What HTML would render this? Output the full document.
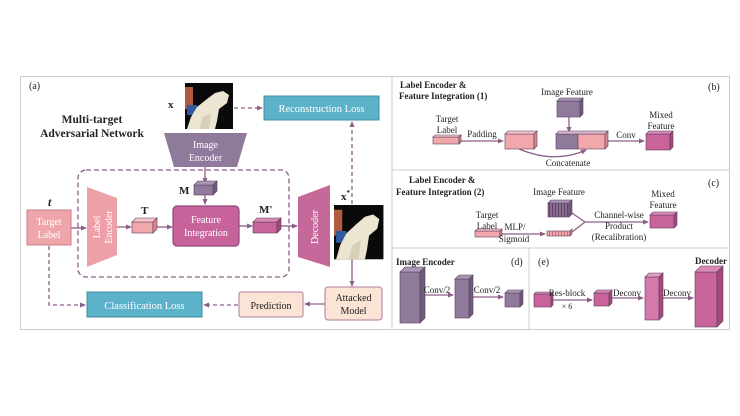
<!DOCTYPE html>
<html><head><meta charset="utf-8"><style>
html,body{margin:0;padding:0;background:#fff;}
svg{display:block;font-family:"Liberation Serif",serif;}
</style></head><body>
<svg width="740" height="416" viewBox="0 0 740 416" xmlns="http://www.w3.org/2000/svg">
<defs>
<marker id="ar" markerWidth="6" markerHeight="6" refX="5" refY="3" orient="auto" markerUnits="userSpaceOnUse"><path d="M0,0.5 L6,3 L0,5.5 z" fill="#8d5f88"/></marker>
<pattern id="st" width="3" height="10" patternUnits="userSpaceOnUse"><rect width="3" height="10" fill="#8a6a8e"/><rect width="1" height="10" fill="#5e4468"/></pattern>
<pattern id="st2" width="3" height="10" patternUnits="userSpaceOnUse"><rect width="3" height="10" fill="#f2a7ad"/><rect width="1" height="10" fill="#c7708a"/></pattern>
<g id="photo"><rect width="48" height="46" fill="#0a0a0a"/><rect x="0" y="4" width="8" height="22" fill="#b05a40"/><rect x="2" y="22" width="10" height="10" fill="#2f5aa0"/><path d="M2,46 L6,34 L12,24 L22,16 L30,10 L38,8 L44,12 L42,20 L34,26 L32,38 L30,46 z" fill="#ece5d2"/><path d="M14,46 L18,34 L26,30 L24,46 z" fill="#d8cfb8"/></g>
</defs>
<rect x="20.5" y="76.5" width="709" height="253" fill="none" stroke="#ccc"/>
<line x1="392" y1="77" x2="392" y2="329" stroke="#ccc"/>
<line x1="392" y1="170" x2="729" y2="170" stroke="#ccc"/>
<line x1="392" y1="248" x2="729" y2="248" stroke="#ccc"/>
<line x1="529" y1="248" x2="529" y2="329" stroke="#ccc"/>

<g stroke="#8d5f88" stroke-width="1.3" fill="none">
<path d="M234,108 H262" stroke-dasharray="4,3" marker-end="url(#ar)"/>
<path d="M352,204 V122" stroke-dasharray="4,3" marker-end="url(#ar)"/>
<path d="M49,246 V305 H85" stroke-dasharray="4,3" marker-end="url(#ar)"/>
<path d="M238,305 H204" stroke-dasharray="4,3" marker-end="url(#ar)"/>
<rect x="78" y="170" width="211" height="107" rx="8" stroke-dasharray="5,3"/>
<path d="M205,167 V183" marker-end="url(#ar)"/>
<path d="M205,195 V204" marker-end="url(#ar)"/>
<path d="M71,228 H86" marker-end="url(#ar)"/>
<path d="M117,227 H131" marker-end="url(#ar)"/>
<path d="M157,227 H172" marker-end="url(#ar)"/>
<path d="M239,226 H252" marker-end="url(#ar)"/>
<path d="M281,226 H297" marker-end="url(#ar)"/>
<path d="M352,259 V286" marker-end="url(#ar)"/>
<path d="M325,304 H305" marker-end="url(#ar)"/>
<path d="M461,141 H503" marker-end="url(#ar)"/>
<path d="M569,117 V132" marker-end="url(#ar)"/>
<path d="M519,149 Q555,164 586,150" marker-end="url(#ar)"/>
<path d="M608,141 H644" marker-end="url(#ar)"/>
<path d="M501,234 H545" marker-end="url(#ar)"/>
<path d="M569,211 L585,222 L572,232"/>
<path d="M585,222 H648" marker-end="url(#ar)"/>
<path d="M420,295 H453" marker-end="url(#ar)"/>
<path d="M469,297 H503" marker-end="url(#ar)"/>
<path d="M551,300 H592" marker-end="url(#ar)"/>
<path d="M609,298 H643" marker-end="url(#ar)"/>
<path d="M659,298 H693" marker-end="url(#ar)"/>
</g>

<rect x="264" y="96" width="115" height="24" fill="#5cb3c9" stroke="#3f8da3"/>
<text x="321.5" y="112" font-size="10.5" fill="#fff" text-anchor="middle">Reconstruction Loss</text>
<rect x="87" y="292" width="115" height="25" fill="#5cb3c9" stroke="#3f8da3"/>
<text x="144.5" y="309" font-size="10.5" fill="#fff" text-anchor="middle">Classification Loss</text>
<rect x="239" y="292" width="64" height="25" rx="2" fill="#fbe3d5" stroke="#b07aa0"/>
<text x="271" y="309" font-size="10" fill="#222" text-anchor="middle">Prediction</text>
<rect x="325" y="287" width="57" height="33" rx="3" fill="#fbe3d5" stroke="#b07aa0"/>
<text x="353.5" y="301" font-size="10" fill="#222" text-anchor="middle">Attacked</text>
<text x="353.5" y="314" font-size="10" fill="#222" text-anchor="middle">Model</text>
<rect x="27" y="210" width="44" height="35" fill="#efa6ab" stroke="#c77f8b"/>
<text x="49" y="225" font-size="10" fill="#fff" text-anchor="middle">Target</text>
<text x="49" y="238" font-size="10" fill="#fff" text-anchor="middle">Label</text>
<rect x="173" y="206" width="66" height="40" rx="4" fill="#c8629a" stroke="#8d4a7a" stroke-width="1.2"/>
<text x="206" y="223" font-size="10" fill="#fff" text-anchor="middle">Feature</text>
<text x="206" y="236" font-size="10" fill="#fff" text-anchor="middle">Integration</text>
<polygon points="164,133 247,133 237,167 174,167" fill="#8f7a9c"/>
<text x="205.5" y="148" font-size="10" fill="#fff" text-anchor="middle">Image</text>
<text x="205.5" y="161" font-size="10" fill="#fff" text-anchor="middle">Encoder</text>
<polygon points="87,187 117,198 117,255 87,267" fill="#eea0a8"/>
<text transform="translate(100,227) rotate(-90)" font-size="10" fill="#fff" text-anchor="middle">Label</text>
<text transform="translate(112,227) rotate(-90)" font-size="10" fill="#fff" text-anchor="middle">Encoder</text>
<polygon points="298,197 330,185 330,267 298,257" fill="#c5699a"/>
<text transform="translate(318,227) rotate(-90)" font-size="10" fill="#fff" text-anchor="middle">Decoder</text>
<use href="#photo" transform="translate(185,83)"/>
<use href="#photo" transform="translate(334,205) scale(1.03,1.18)"/>

<g stroke="#5a3f5e" stroke-width="0.6">
<rect x="194" y="185" width="19" height="10" fill="#8f7a9c"/><polygon points="194,185 198,181 217,181 213,185" fill="#a896b2"/><polygon points="213,185 217,181 217,191 213,195" fill="#6e5a7a"/>
<rect x="132" y="222" width="21" height="11" fill="#f2a7ad"/><polygon points="132,222 136,218 157,218 153,222" fill="#f7c4c7"/><polygon points="153,222 157,218 157,229 153,233" fill="#d9868f"/>
<rect x="253" y="222" width="24" height="11" fill="#c8649a"/><polygon points="253,222 257,218 281,218 277,222" fill="#db8ab5"/><polygon points="277,222 281,218 281,229 277,233" fill="#a34a7b"/>
<rect x="433" y="137" width="26" height="7" fill="#f2a7ad"/><polygon points="433,137 435,135 461,135 459,137" fill="#f7c4c7"/><polygon points="459,137 461,135 461,142 459,144" fill="#d9868f"/>
<rect x="505" y="134" width="29" height="15" fill="#f2a7ad"/><polygon points="505,134 508,131 537,131 534,134" fill="#f7c4c7"/><polygon points="534,134 537,131 537,146 534,149" fill="#d9868f"/>
<rect x="557" y="101" width="23" height="16" fill="#8f7a9c"/><polygon points="557,101 560,98 583,98 580,101" fill="#a896b2"/><polygon points="580,101 583,98 583,114 580,117" fill="#6e5a7a"/>
<rect x="556" y="134" width="22" height="15" fill="#8f7a9c"/><rect x="578" y="134" width="27" height="15" fill="#f2a7ad"/><polygon points="556,134 559,131 608,131 605,134" fill="#d8b8c8"/><polygon points="605,134 608,131 608,146 605,149" fill="#d9868f"/>
<rect x="646" y="134" width="24" height="16" fill="#c8649a"/><polygon points="646,134 649,131 673,131 670,134" fill="#db8ab5"/><polygon points="670,134 673,131 673,147 670,150" fill="#a34a7b"/>
<rect x="548" y="203" width="21" height="14" fill="url(#st)"/><polygon points="548,203 551,200 572,200 569,203" fill="#a896b2"/><polygon points="569,203 572,200 572,214 569,217" fill="#6e5a7a"/>
<rect x="475" y="231" width="25" height="6" fill="#f2a7ad"/><polygon points="475,231 477,229 502,229 500,231" fill="#f7c4c7"/><polygon points="500,231 502,229 502,235 500,237" fill="#d9868f"/>
<rect x="547" y="231" width="23" height="5" fill="url(#st2)"/><polygon points="570,231 572,229 572,234 570,236" fill="#d9868f"/>
<rect x="650" y="215" width="24" height="13" fill="#c8649a"/><polygon points="650,215 653,212 677,212 674,215" fill="#db8ab5"/><polygon points="674,215 677,212 677,225 674,228" fill="#a34a7b"/>
<rect x="400" y="272" width="20" height="51" fill="#8f7a9c"/><polygon points="400,272 405,267 425,267 420,272" fill="#a896b2"/><polygon points="420,272 425,267 425,318 420,323" fill="#6e5a7a"/>
<rect x="455" y="279" width="14" height="39" fill="#8f7a9c"/><polygon points="455,279 459,275 473,275 469,279" fill="#a896b2"/><polygon points="469,279 473,275 473,314 469,318" fill="#6e5a7a"/>
<rect x="505" y="293" width="15" height="14" fill="#8f7a9c"/><polygon points="505,293 508,290 523,290 520,293" fill="#a896b2"/><polygon points="520,293 523,290 523,304 520,307" fill="#6e5a7a"/>
<rect x="534" y="294" width="17" height="13" fill="#c8649a"/><polygon points="534,294 536,292 553,292 551,294" fill="#db8ab5"/><polygon points="551,294 553,292 553,305 551,307" fill="#a34a7b"/>
<rect x="594" y="293" width="15" height="13" fill="#c8649a"/><polygon points="594,293 597,290 612,290 609,293" fill="#db8ab5"/><polygon points="609,293 612,290 612,303 609,306" fill="#a34a7b"/>
<rect x="645" y="277" width="14" height="43" fill="#d578aa"/><polygon points="645,277 649,273 663,273 659,277" fill="#e39cc2"/><polygon points="659,277 663,273 663,316 659,320" fill="#a34a7b"/>
<rect x="695" y="272" width="22" height="55" fill="#c8649a"/><polygon points="695,272 701,266 723,266 717,272" fill="#db8ab5"/><polygon points="717,272 723,266 723,321 717,327" fill="#a34a7b"/>
</g>

<g font-size="10" fill="#222">
<text x="29" y="89">(a)</text>
<text x="92" y="123" font-size="11.5" font-weight="bold" text-anchor="middle">Multi-target</text>
<text x="92" y="137" font-size="11.5" font-weight="bold" text-anchor="middle">Adversarial Network</text>
<text x="168" y="108" font-weight="bold" font-size="11">x</text>
<text x="179" y="194" font-weight="bold" font-size="11">M</text>
<text x="141" y="214" font-weight="bold" font-size="11">T</text>
<text x="259" y="213" font-weight="bold" font-size="11">M'</text>
<text x="48" y="206" font-weight="bold" font-style="italic" font-size="12">t</text>
<text x="341" y="200" font-weight="bold" font-size="11">x<tspan font-size="7" dy="-5">*</tspan></text>

<text x="400" y="88" font-weight="bold" font-size="9">Label Encoder &amp;</text>
<text x="399" y="99" font-weight="bold" font-size="9">Feature Integration (1)</text>
<text x="708" y="90">(b)</text>
<text x="447" y="122" font-size="9" text-anchor="middle">Target</text>
<text x="447" y="133" font-size="9" text-anchor="middle">Label</text>
<text x="482" y="137" font-size="9" text-anchor="middle">Padding</text>
<text x="567" y="95" font-size="9" text-anchor="middle">Image Feature</text>
<text x="568" y="166" font-size="9" text-anchor="middle">Concatenate</text>
<text x="626" y="138" font-size="9" text-anchor="middle">Conv</text>
<text x="661" y="118" font-size="9" text-anchor="middle">Mixed</text>
<text x="661" y="129" font-size="9" text-anchor="middle">Feature</text>

<text x="409" y="183" font-weight="bold" font-size="9">Label Encoder &amp;</text>
<text x="396" y="195" font-weight="bold" font-size="9">Feature Integration (2)</text>
<text x="708" y="186">(c)</text>
<text x="559" y="195" font-size="9" text-anchor="middle">Image Feature</text>
<text x="487" y="218" font-size="9" text-anchor="middle">Target</text>
<text x="487" y="229" font-size="9" text-anchor="middle">Label</text>
<text x="515" y="230" font-size="9" text-anchor="middle">MLP/</text>
<text x="514" y="242" font-size="9" text-anchor="middle">Sigmoid</text>
<text x="619" y="218" font-size="9" text-anchor="middle">Channel-wise</text>
<text x="619" y="229" font-size="9" text-anchor="middle">Product</text>
<text x="619" y="240" font-size="9" text-anchor="middle">(Recalibration)</text>
<text x="663" y="197" font-size="9" text-anchor="middle">Mixed</text>
<text x="663" y="208" font-size="9" text-anchor="middle">Feature</text>

<text x="396" y="265" font-weight="bold" font-size="9">Image Encoder</text>
<text x="511" y="265">(d)</text>
<text x="437" y="293" font-size="9" text-anchor="middle">Conv/2</text>
<text x="487" y="293" font-size="9" text-anchor="middle">Conv/2</text>
<text x="538" y="265">(e)</text>
<text x="727" y="264" font-weight="bold" font-size="9" text-anchor="end">Decoder</text>
<text x="567" y="296" font-size="9" text-anchor="middle">Res-block</text>
<text x="567" y="309" font-size="8" text-anchor="middle">× 6</text>
<text x="627" y="296" font-size="9" text-anchor="middle">Deconv</text>
<text x="677" y="296" font-size="9" text-anchor="middle">Deconv</text>
</g>
</svg>
</body></html>
